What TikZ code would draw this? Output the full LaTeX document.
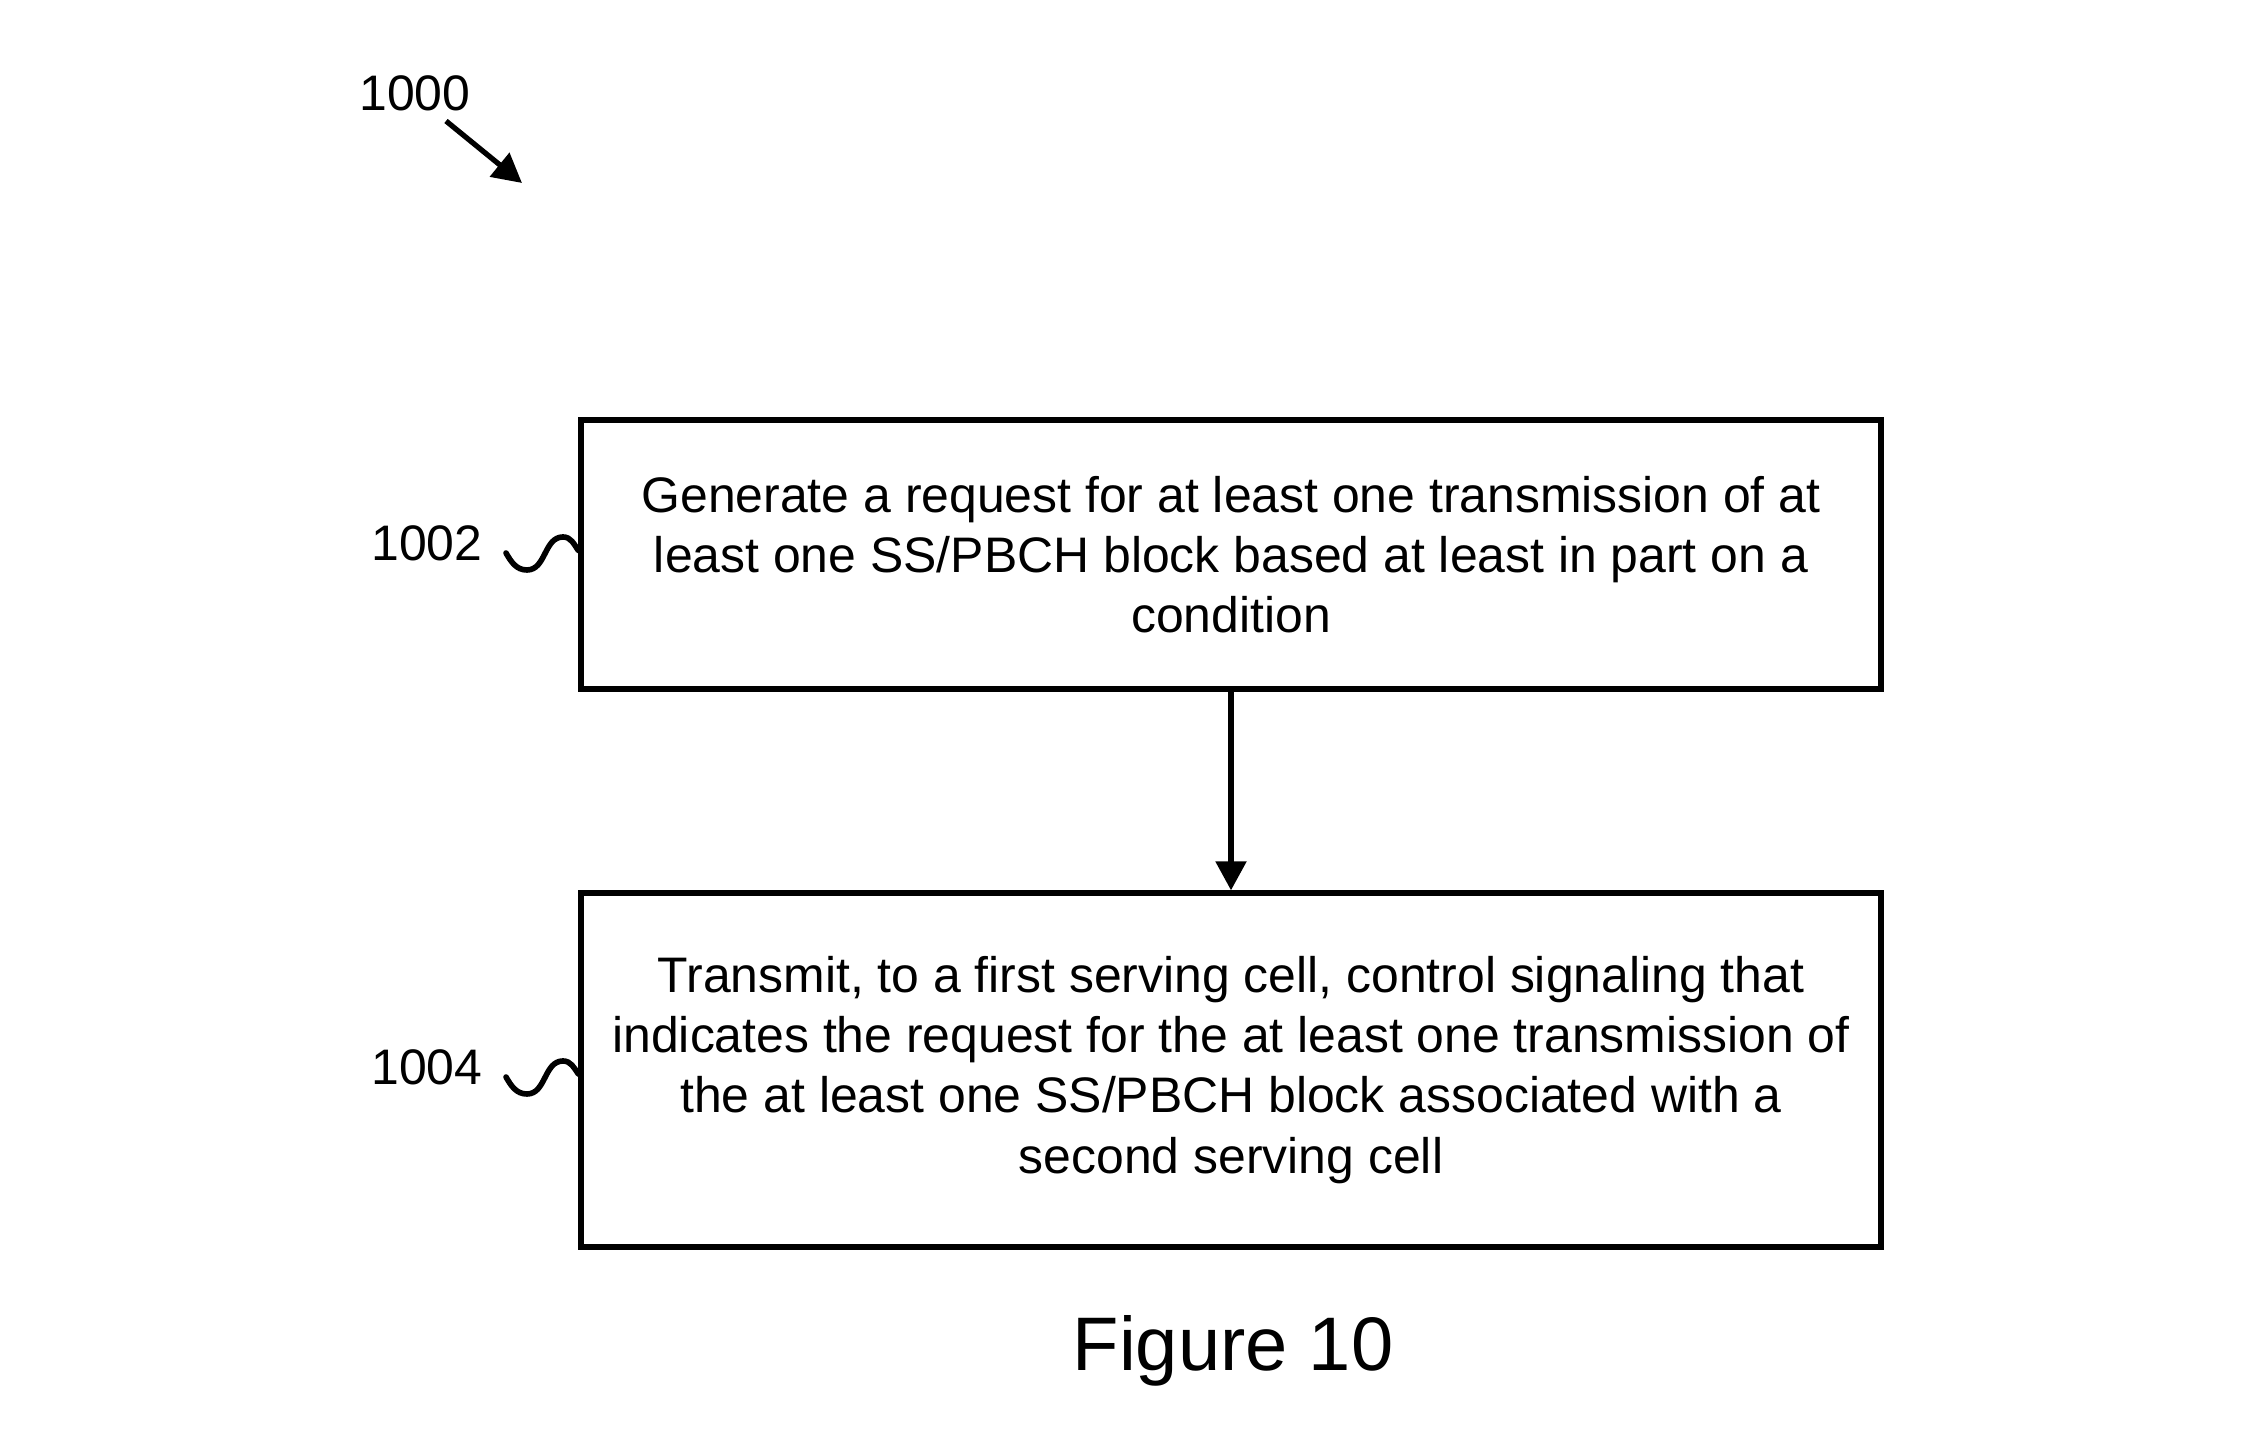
\documentclass[tikz,border=0pt]{standalone}
\usepackage{fontspec}
\setmainfont{Liberation Sans}
\usetikzlibrary{arrows.meta,calc}

\begin{document}
\begin{tikzpicture}[
	boite/.style={draw,line width=1.5pt,align=center,inner sep=0pt,
		font=\fontsize{14.2}{17.1}\selectfont},
	refnum/.style={font=\fontsize{14.2}{17.1}\selectfont},
	fleche/.style={line width=1.5pt,-{Triangle[length=0.29cm,width=0.3cm]}}]
					%\draw[help lines] (0,-15) grid (23,0);
					\useasboundingbox (0,0) rectangle (22.65,-14.53);
					%NUMERO 1000
					\node[refnum] (N1000) at (4.15,-0.93) {1000};
					\coordinate (D) at (4.46,-1.21);
					\coordinate (F) at (5.22,-1.83);
					\draw[fleche] (D) -- (F);

					%ETAPE 1002
					\node[boite,minimum width=13cm,minimum height=2.69cm] (E1) at (12.31,-5.545)
						{Generate a request for at least one transmission of at\\
						least one SS/PBCH block based at least in part on a\\
						condition};
					\node[refnum] (N1002) at (4.27,-5.43) {1002};
					\coordinate (S1) at (5.06,-5.53);
					\draw[line width=1.6pt,line cap=round] (S1) to[out=-60,in=180] ++(0.21,-0.17)
						to[out=0,in=180] ++(0.36,0.33) to[out=0,in=125] ($(E1.west)+(0,0.04)$);

					%ETAPE 1004
					\node[boite,minimum width=13cm,minimum height=3.54cm] (E2) at (12.31,-10.70)
						{Transmit, to a first serving cell, control signaling that\\
						indicates the request for the at least one transmission of\\
						the at least one SS/PBCH block associated with a\\
						second serving cell};
					\node[refnum] (N1004) at (4.27,-10.67) {1004};
					\coordinate (S2) at (5.06,-10.77);
					\draw[line width=1.6pt,line cap=round] (S2) to[out=-60,in=180] ++(0.21,-0.17)
						to[out=0,in=180] ++(0.36,0.33) to[out=0,in=125] ($(E2.west)+(0,-0.04)$);

					%FLECHE
					\draw[fleche] (E1) -- (E2);

					%LEGENDE
					\node[font=\fontsize{21.6}{26}\selectfont] (fig) at (12.33,-13.51) {Figure 10};
				  \end{tikzpicture}
\end{document}
